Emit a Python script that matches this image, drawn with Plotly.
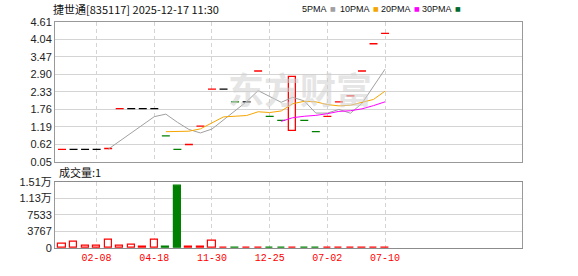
import plotly.graph_objects as go
import pandas as pd

# ---- data ----
closes = [0.45, 0.45, 0.45, 0.45, 0.48, 1.78, 1.78, 1.78, 1.78, 0.89,
          0.45, 0.61, 1.21, 2.42, 2.42, 2.00, 2.00, 3.01, 1.53, 1.40,
          2.82, 1.40, 1.03, 1.53, 2.00, 2.20, 3.01, 3.90, 4.24]
opens = [0.45, 0.45, 0.45, 0.45, 0.48, 1.78, 1.78, 1.78, 1.78, 0.89,
         0.45, 0.61, 1.21, 2.42, 2.42, 2.00, 2.00, 3.01, 1.53, 1.40,
         1.06, 1.40, 1.03, 1.53, 2.00, 2.20, 3.01, 3.90, 4.24]
volumes = [880, 1320, 440, 440, 1985, 440, 800, 200, 1985, 200,
           14180, 200, 200, 1760, 150, 150, 150, 150, 150, 150,
           150, 150, 150, 150, 150, 150, 150, 150, 150]
tick_idx = [3, 8, 13, 18, 23, 28]
tick_labels = ["02-08", "04-18", "11-30", "12-25", "07-02", "07-10"]
price_ticks = [0.05, 0.62, 1.19, 1.76, 2.33, 2.90, 3.47, 4.04, 4.61]
vol_ticks = [0, 3766.5, 7533, 11299.5, 15066]
vol_tick_labels = ["0", "3767", "7533", "1.13万", "1.51万"]
title = "捷世通[835117] 2025-12-17 11:30"
ma_periods = [5, 10, 20, 30]
ma_names = ["5PMA", "10PMA", "20PMA", "30PMA"]

RED = "#ff0000"
GREEN = "#008000"
BLACK = "#000000"
ma_colors = ["#a0a0a0", "#f5a500", "#ff00ff", "#006b2e"]

n = len(closes)
idx = list(range(n))

# direction of each candle
dirs = []
for i in range(n):
    if closes[i] > opens[i]:
        d = 1
    elif closes[i] < opens[i]:
        d = -1
    else:
        prev = closes[i - 1] if i > 0 else None
        if prev is None:
            d = 1
        elif closes[i] > prev:
            d = 1
        elif closes[i] < prev:
            d = -1
        else:
            d = 0
    dirs.append(d)

fig = go.Figure()

# ---- main price panel ----
# flat (one-price) candles as short dashes
for dval, col in [(1, RED), (-1, GREEN), (0, BLACK)]:
    xs = [i for i in idx if dirs[i] == dval and opens[i] == closes[i]]
    ys = [closes[i] for i in xs]
    fig.add_trace(go.Scatter(
        x=xs, y=ys, mode="markers", xaxis="x2", yaxis="y",
        marker=dict(symbol="line-ew", size=5.7, line=dict(color=col, width=1.3)),
        hoverinfo="skip", showlegend=False))

# candles with a body
body_x = [i for i in idx if opens[i] != closes[i]]
fig.add_trace(go.Bar(
    x=body_x,
    base=[min(opens[i], closes[i]) for i in body_x],
    y=[abs(closes[i] - opens[i]) for i in body_x],
    width=0.62, xaxis="x2", yaxis="y",
    marker=dict(color=["#ffffff" if dirs[i] > 0 else GREEN for i in body_x],
                line=dict(color=[RED if dirs[i] > 0 else GREEN for i in body_x], width=1.3)),
    hoverinfo="skip", showlegend=False))

# moving averages
s = pd.Series(closes)
for p, col in zip(ma_periods, ma_colors):
    ma = s.rolling(p).mean()
    fig.add_trace(go.Scatter(
        x=idx, y=ma, mode="lines", xaxis="x2", yaxis="y",
        line=dict(color=col, width=1), hoverinfo="skip", showlegend=False))

# ---- volume panel ----
fig.add_trace(go.Bar(
    x=idx, y=volumes, width=0.62, xaxis="x", yaxis="y2",
    marker=dict(color=["#ffffff" if d >= 0 else GREEN for d in dirs],
                line=dict(color=[RED if d >= 0 else GREEN for d in dirs], width=1.2)),
    hoverinfo="skip", showlegend=False))

W, H = 578, 276
L, R, T, B = 55, 56, 22, 21
pw, ph = W - L - R, H - T - B


def px(x):
    return (x - L) / pw


def py(y):
    return (H - B - y) / ph


xrange = [-0.607, 39.87]
grid = "#d4d4d4"
border = "#999999"
tickfont = dict(family="Liberation Sans, Arial, Noto Sans CJK SC", size=11, color="#222222")

fig.update_layout(
    width=W, height=H,
    margin=dict(l=L, r=R, t=T, b=B),
    paper_bgcolor="white", plot_bgcolor="white",
    bargap=0, barmode="overlay",
    xaxis=dict(domain=[0, 1], range=xrange, anchor="y2",
               tickvals=tick_idx, ticktext=tick_labels,
               tickfont=dict(family="Liberation Mono, monospace", size=10, color=RED),
               showgrid=True, gridcolor=grid, griddash="4px,3px", gridwidth=1,
               showline=True, linecolor="#8c8c8c", mirror=True, linewidth=1,
               zeroline=False, ticks="", fixedrange=True),
    xaxis2=dict(domain=[0, 1], range=xrange, anchor="y", matches="x",
                tickvals=tick_idx, showticklabels=False,
                showgrid=True, gridcolor=grid, griddash="4px,3px", gridwidth=1,
                showline=True, linecolor=border, mirror=True, linewidth=1,
                zeroline=False, ticks=""),
    yaxis=dict(domain=[py(166), 1], range=[0.05, 4.61], anchor="x2",
               tickvals=price_ticks, ticktext=[f"{v:.2f}" for v in price_ticks],
               tickfont=tickfont, showgrid=True, gridcolor=grid, gridwidth=1,
               showline=True, linecolor=border, mirror=True, linewidth=1,
               zeroline=False, ticks=""),
    yaxis2=dict(domain=[0, py(186.7)], range=[0, 15066], anchor="x",
                tickvals=vol_ticks, ticktext=vol_tick_labels,
                tickfont=tickfont, showgrid=True, gridcolor=grid, gridwidth=1,
                showline=True, linecolor=border, mirror=True, linewidth=1,
                zeroline=False, ticks=""),
    showlegend=False,
)

ann = []
# watermark
ann.append(dict(xref="paper", yref="paper", x=px(300), y=py(90), text="<b>东方财富</b>",
                showarrow=False, xanchor="center", yanchor="middle",
                font=dict(family="Noto Sans CJK SC", size=36, color="#d0d0d0"), opacity=0.55))
# title
ann.append(dict(xref="paper", yref="paper", x=px(51), y=py(8.5), text=title,
                showarrow=False, xanchor="left", yanchor="middle",
                font=dict(family="Noto Sans CJK SC", size=11, color="#111111")))
# legend: text right edge, square centre
leg_pos = [(328.5, 332.5), (371.5, 375.5), (412.5, 416.5), (453.5, 457.5)]
for name, col, (tx, sx) in zip(ma_names, ma_colors, leg_pos):
    ann.append(dict(xref="paper", yref="paper", x=px(tx), y=py(8.5), text=name,
                    showarrow=False, xanchor="right", yanchor="middle",
                    font=dict(family="Liberation Sans, Arial", size=9, color="#111111")))
    ann.append(dict(xref="paper", yref="paper", x=px(sx), y=py(8.5), text="■",
                    showarrow=False, xanchor="center", yanchor="middle",
                    font=dict(family="DejaVu Sans", size=6, color=col)))
# volume label
ann.append(dict(xref="paper", yref="paper", x=px(57), y=py(176.5), text="成交量:1",
                showarrow=False, xanchor="left", yanchor="middle",
                font=dict(family="Noto Sans CJK SC", size=11, color="#111111")))
fig.update_layout(annotations=ann)

fig.write_html("out.html")
